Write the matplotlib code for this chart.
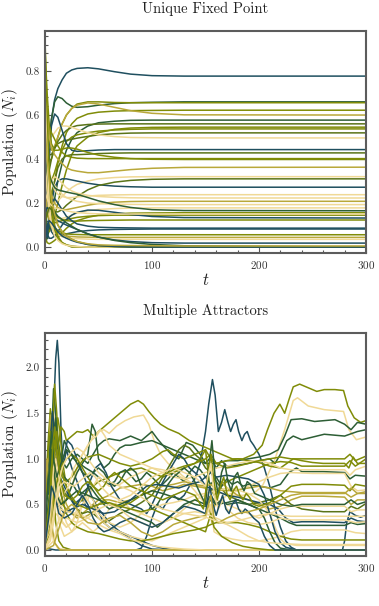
import matplotlib
matplotlib.use("Agg")
import matplotlib.pyplot as plt
from matplotlib.ticker import MultipleLocator, FormatStrFormatter

plt.rcParams['font.family'] = 'serif'
plt.rcParams['font.serif'] = ['cmr10']
plt.rcParams['mathtext.fontset'] = 'cm'
plt.rcParams['axes.unicode_minus'] = False
plt.rcParams['axes.formatter.use_mathtext'] = True

# palette keys
PAL = {'T': '#1f4f5f', 'D': '#2d5e35', 'G': '#5a7418', 'O': '#808c08',
       'Y': '#b9a83a', 'L': '#f0d996'}

# ---------------- top panel data: values at shared time grid ----------------
top_t = [0, 2, 4, 6, 9, 12, 16, 20, 25, 30, 40, 50, 65, 80, 100, 130, 300]
top_colors = ['T', 'D', 'O', 'O', 'Y', 'D', 'G', 'O', 'O', 'G', 'L', 'T', 'G', 'O', 'O',
              'Y', 'L', 'T', 'G', 'L', 'L', 'Y', 'L', 'L', 'D', 'O', 'O', 'T', 'O', 'T',
              'T', 'O', 'Y', 'L', 'T', 'D', 'O', 'O', 'L', 'G', 'T', 'L', 'Y']
top_series = [
    [0.10, 0.30, 0.48, 0.58, 0.67, 0.72, 0.76, 0.79, 0.805, 0.812, 0.815, 0.81, 0.797, 0.786, 0.779, 0.777, 0.777],
    [0.05, 0.25, 0.45, 0.58, 0.66, 0.683, 0.675, 0.655, 0.64, 0.635, 0.638, 0.645, 0.652, 0.656, 0.658, 0.66, 0.66],
    [0.45, 0.40, 0.38, 0.40, 0.45, 0.50, 0.56, 0.60, 0.63, 0.65, 0.66, 0.66, 0.657, 0.656, 0.656, 0.656, 0.656],
    [0.30, 0.20, 0.18, 0.22, 0.30, 0.38, 0.46, 0.52, 0.56, 0.585, 0.605, 0.613, 0.618, 0.62, 0.621, 0.622, 0.622],
    [0.60, 0.50, 0.45, 0.44, 0.46, 0.50, 0.56, 0.60, 0.63, 0.645, 0.655, 0.65, 0.635, 0.62, 0.608, 0.601, 0.60],
    [0.02, 0.04, 0.08, 0.14, 0.22, 0.30, 0.38, 0.44, 0.49, 0.52, 0.55, 0.565, 0.572, 0.576, 0.577, 0.577, 0.577],
    [0.50, 0.45, 0.42, 0.42, 0.45, 0.48, 0.51, 0.53, 0.545, 0.552, 0.557, 0.559, 0.56, 0.56, 0.56, 0.56, 0.56],
    [0.15, 0.08, 0.07, 0.09, 0.14, 0.20, 0.28, 0.35, 0.42, 0.46, 0.50, 0.52, 0.535, 0.541, 0.544, 0.545, 0.545],
    [0.38, 0.30, 0.28, 0.30, 0.34, 0.39, 0.44, 0.48, 0.50, 0.51, 0.52, 0.527, 0.532, 0.535, 0.537, 0.537, 0.537],
    [0.25, 0.30, 0.35, 0.40, 0.45, 0.47, 0.48, 0.485, 0.49, 0.495, 0.503, 0.51, 0.515, 0.518, 0.519, 0.519, 0.519],
    [0.55, 0.52, 0.50, 0.50, 0.52, 0.54, 0.55, 0.55, 0.545, 0.535, 0.52, 0.51, 0.502, 0.498, 0.497, 0.496, 0.496],
    [0.05, 0.20, 0.40, 0.55, 0.605, 0.59, 0.53, 0.47, 0.44, 0.435, 0.438, 0.441, 0.443, 0.443, 0.443, 0.443, 0.443],
    [0.30, 0.25, 0.22, 0.24, 0.30, 0.36, 0.40, 0.415, 0.42, 0.42, 0.422, 0.425, 0.427, 0.428, 0.428, 0.428, 0.428],
    [0.70, 0.60, 0.55, 0.52, 0.49, 0.46, 0.43, 0.415, 0.408, 0.404, 0.402, 0.402, 0.402, 0.402, 0.402, 0.402, 0.402],
    [0.90, 0.70, 0.55, 0.47, 0.44, 0.44, 0.445, 0.45, 0.45, 0.445, 0.43, 0.418, 0.408, 0.402, 0.399, 0.398, 0.398],
    [0.80, 0.60, 0.50, 0.45, 0.42, 0.40, 0.38, 0.36, 0.35, 0.345, 0.338, 0.338, 0.345, 0.352, 0.358, 0.362, 0.363],
    [0.35, 0.28, 0.22, 0.20, 0.20, 0.21, 0.23, 0.25, 0.27, 0.285, 0.30, 0.31, 0.316, 0.319, 0.32, 0.32, 0.32],
    [0.02, 0.05, 0.12, 0.20, 0.27, 0.30, 0.31, 0.31, 0.305, 0.30, 0.29, 0.283, 0.277, 0.274, 0.272, 0.272, 0.272],
    [0.40, 0.30, 0.22, 0.18, 0.16, 0.16, 0.17, 0.19, 0.21, 0.23, 0.26, 0.28, 0.295, 0.303, 0.308, 0.31, 0.31],
    [0.60, 0.45, 0.35, 0.30, 0.26, 0.24, 0.23, 0.225, 0.225, 0.228, 0.232, 0.235, 0.237, 0.238, 0.238, 0.238, 0.238],
    [0.15, 0.20, 0.26, 0.30, 0.32, 0.31, 0.29, 0.27, 0.255, 0.245, 0.235, 0.23, 0.226, 0.224, 0.223, 0.223, 0.223],
    [0.50, 0.35, 0.28, 0.24, 0.20, 0.18, 0.17, 0.17, 0.175, 0.18, 0.19, 0.198, 0.204, 0.207, 0.208, 0.208, 0.208],
    [0.25, 0.30, 0.32, 0.30, 0.28, 0.26, 0.24, 0.225, 0.215, 0.208, 0.20, 0.197, 0.195, 0.194, 0.193, 0.193, 0.193],
    [0.45, 0.30, 0.22, 0.17, 0.14, 0.13, 0.13, 0.135, 0.145, 0.155, 0.165, 0.171, 0.175, 0.177, 0.178, 0.178, 0.178],
    [0.30, 0.35, 0.33, 0.30, 0.27, 0.26, 0.255, 0.25, 0.245, 0.24, 0.225, 0.21, 0.193, 0.18, 0.17, 0.166, 0.165],
    [0.05, 0.02, 0.015, 0.02, 0.03, 0.045, 0.065, 0.085, 0.105, 0.12, 0.135, 0.145, 0.151, 0.154, 0.155, 0.156, 0.156],
    [0.20, 0.15, 0.12, 0.11, 0.11, 0.115, 0.12, 0.125, 0.13, 0.135, 0.14, 0.143, 0.145, 0.145, 0.145, 0.145, 0.145],
    [0.10, 0.06, 0.04, 0.04, 0.05, 0.07, 0.10, 0.125, 0.145, 0.158, 0.168, 0.167, 0.158, 0.148, 0.139, 0.134, 0.132],
    [0.35, 0.28, 0.22, 0.18, 0.15, 0.135, 0.125, 0.12, 0.118, 0.118, 0.12, 0.121, 0.122, 0.123, 0.123, 0.123, 0.123],
    [0.02, 0.08, 0.15, 0.20, 0.22, 0.20, 0.17, 0.14, 0.12, 0.105, 0.095, 0.09, 0.088, 0.087, 0.086, 0.086, 0.086],
    [0.30, 0.20, 0.12, 0.07, 0.05, 0.05, 0.055, 0.06, 0.065, 0.07, 0.075, 0.078, 0.08, 0.081, 0.082, 0.082, 0.082],
    [0.60, 0.35, 0.20, 0.13, 0.09, 0.075, 0.065, 0.06, 0.058, 0.057, 0.056, 0.056, 0.056, 0.056, 0.056, 0.056, 0.056],
    [0.25, 0.18, 0.12, 0.09, 0.07, 0.06, 0.055, 0.05, 0.048, 0.046, 0.045, 0.044, 0.044, 0.044, 0.044, 0.044, 0.044],
    [0.40, 0.25, 0.15, 0.10, 0.07, 0.055, 0.047, 0.042, 0.04, 0.038, 0.036, 0.035, 0.035, 0.035, 0.035, 0.035, 0.035],
    [0.15, 0.18, 0.17, 0.15, 0.13, 0.12, 0.11, 0.10, 0.09, 0.08, 0.06, 0.045, 0.032, 0.025, 0.02, 0.018, 0.018],
    [0.50, 0.35, 0.25, 0.20, 0.16, 0.14, 0.125, 0.11, 0.095, 0.08, 0.06, 0.045, 0.03, 0.02, 0.012, 0.006, 0.0],
    [0.95, 0.60, 0.35, 0.20, 0.10, 0.05, 0.02, 0.01, 0.005, 0.002, 0.0, 0.0, 0.0, 0.0, 0.0, 0.0, 0.0],
    [0.85, 0.50, 0.30, 0.17, 0.08, 0.04, 0.02, 0.01, 0.0, 0.0, 0.0, 0.0, 0.0, 0.0, 0.0, 0.0, 0.0],
    [0.70, 0.40, 0.20, 0.10, 0.05, 0.03, 0.015, 0.008, 0.004, 0.002, 0.0, 0.0, 0.0, 0.0, 0.0, 0.0, 0.0],
    [0.10, 0.15, 0.18, 0.17, 0.14, 0.10, 0.07, 0.05, 0.035, 0.025, 0.012, 0.006, 0.002, 0.0, 0.0, 0.0, 0.0],
    [0.05, 0.10, 0.12, 0.11, 0.09, 0.07, 0.05, 0.04, 0.03, 0.022, 0.012, 0.007, 0.003, 0.001, 0.0, 0.0, 0.0],
    [0.25, 0.22, 0.20, 0.19, 0.18, 0.175, 0.17, 0.165, 0.16, 0.157, 0.153, 0.151, 0.15, 0.15, 0.15, 0.15, 0.15],
    [0.55, 0.40, 0.30, 0.22, 0.15, 0.10, 0.07, 0.05, 0.035, 0.025, 0.015, 0.01, 0.008, 0.007, 0.006, 0.005, 0.005],
]

# ---------------- bottom panel data: (t, value) knots per species ----------------
bottom_colors = ['T', 'T', 'O', 'L', 'D', 'D', 'O', 'O', 'D', 'L', 'Y', 'G', 'T', 'T', 'Y',
                 'L', 'L', 'O', 'L', 'D', 'T', 'O', 'L', 'Y', 'L', 'O', 'D', 'L', 'O', 'L',
                 'D', 'O', 'L', 'T', 'Y', 'L']
bottom_knots = [
    [(0, 0.05), (3, 0.2), (6, 0.8), (8, 1.5), (10, 2.1), (11.5, 2.3), (13, 2.05), (15, 1.3), (17, 0.9), (20, 1.1),
     (25, 0.9), (30, 0.75), (35, 0.55), (40, 0.45), (45, 0.5), (50, 0.42), (55, 0.3), (60, 0.25), (70, 0.2),
     (80, 0.15), (90, 0.1), (100, 0.05), (110, 0.02), (120, 0.0), (300, 0.0)],
    [(0, 0.02), (10, 0.0), (85, 0.0), (90, 0.02), (95, 0.15), (100, 0.35), (105, 0.5), (110, 0.45), (115, 0.55),
     (120, 0.6), (125, 0.55), (130, 0.6), (135, 0.7), (140, 0.78), (145, 0.95), (150, 1.3), (153, 1.6), (156.5, 1.87),
     (159, 1.7), (162, 1.3), (165, 1.4), (168, 1.54), (171, 1.4), (173.5, 1.3), (176, 1.38), (178.5, 1.43), (181, 1.3),
     (184, 1.2), (186.5, 1.27), (189, 1.3), (192, 1.2), (195, 1.15), (200, 1.05), (205, 0.9), (210, 0.7), (215, 0.45),
     (220, 0.25), (225, 0.1), (230, 0.03), (235, 0.0), (278, 0.0), (280, 0.1), (282, 0.3), (285, 0.42), (290, 0.38),
     (295, 0.36), (300, 0.38)],
    [(0, 0.3), (3, 0.9), (5, 1.4), (7, 1.2), (9, 0.9), (12, 1.1), (15, 1.35), (18, 1.3), (20, 1.2), (25, 1.25),
     (30, 1.3), (35, 1.29), (40, 1.32), (45, 1.25), (50, 1.3), (55, 1.35), (60, 1.4), (70, 1.5), (80, 1.6), (87, 1.64),
     (92, 1.6), (97, 1.52), (102, 1.45), (108, 1.38), (115, 1.33), (125, 1.28), (135, 1.2), (145, 1.15), (155, 1.1),
     (165, 1.05), (175, 1.0), (185, 1.0), (195, 1.05), (203, 1.15), (208, 1.32), (214, 1.5), (219.5, 1.6), (224, 1.5),
     (228, 1.65), (232, 1.79), (238, 1.82), (246, 1.78), (254, 1.74), (261, 1.76), (271, 1.76), (279, 1.75),
     (283, 1.58), (289, 1.45), (295, 1.4), (300, 1.42)],
    [(0, 0.1), (4, 0.6), (6, 1.4), (8, 1.5), (10, 1.3), (12, 0.9), (15, 0.7), (20, 0.6), (25, 0.7), (30, 0.9),
     (35, 1.05), (40, 1.15), (45, 1.25), (50, 1.3), (55, 1.32), (60, 1.28), (67, 1.36), (75, 1.42), (83, 1.46),
     (92, 1.48), (97, 1.38), (102, 1.2), (108, 1.05), (115, 0.95), (125, 0.85), (135, 0.75), (145, 0.7), (155, 0.65),
     (165, 0.62), (175, 0.6), (185, 0.6), (195, 0.62), (203, 0.7), (208, 0.82), (215, 1.0), (224, 1.32), (232, 1.64),
     (236, 1.67), (246, 1.58), (261, 1.54), (279, 1.52), (284, 1.32), (291, 1.21), (300, 1.24)],
    [(0, 0.2), (3, 0.8), (5, 1.5), (7, 1.4), (9, 1.0), (12, 1.2), (15, 1.0), (20, 0.9), (25, 1.0), (30, 1.05),
     (35, 1.0), (40, 0.95), (45, 1.05), (50, 1.15), (55, 1.2), (60, 1.22), (70, 1.2), (80, 1.25), (90, 1.2),
     (95, 1.25), (100, 1.3), (105, 1.22), (110, 1.15), (120, 1.1), (130, 1.05), (140, 1.0), (150, 0.95), (160, 0.95),
     (170, 0.98), (180, 0.98), (190, 1.0), (200, 1.02), (210, 1.05), (218, 1.1), (224, 1.25), (230, 1.43),
     (240, 1.44), (252, 1.41), (271, 1.43), (280, 1.38), (286, 1.32), (292, 1.4), (300, 1.38)],
    [(0, 0.1), (4, 0.5), (6, 1.2), (8, 1.77), (10, 1.5), (12, 1.0), (14, 0.7), (17, 0.5), (20, 0.55), (25, 0.7),
     (30, 0.85), (35, 0.95), (40, 1.05), (44, 1.38), (47, 1.3), (50, 1.0), (55, 0.9), (60, 0.95), (65, 1.05),
     (70, 1.12), (75, 1.15), (80, 1.15), (90, 1.18), (100, 1.2), (110, 1.15), (118, 1.05), (125, 1.0), (132, 1.18),
     (138, 1.15), (145, 1.05), (150, 0.95), (155, 1.02), (160, 0.9), (165, 0.98), (170, 0.92), (180, 0.93),
     (190, 0.95), (200, 0.98), (210, 1.0), (215, 0.95), (220, 1.05), (226, 1.2), (232, 1.25), (240, 1.21),
     (261, 1.27), (280, 1.25), (292, 1.3), (300, 1.32)],
    [(0, 0.5), (3, 1.2), (5, 1.55), (7, 1.3), (9, 1.82), (11, 1.5), (13, 1.0), (16, 0.8), (20, 0.75), (25, 0.8),
     (30, 0.9), (35, 0.98), (40, 1.02), (50, 1.05), (60, 1.0), (70, 0.95), (80, 0.92), (90, 0.95), (100, 1.0),
     (110, 1.08), (115, 1.1), (120, 1.05), (130, 1.0), (140, 1.05), (150, 1.1), (155, 1.0), (160, 0.95), (170, 0.98),
     (180, 1.0), (190, 0.98), (200, 0.96), (210, 0.92), (220, 0.9), (226, 0.95), (232, 1.0), (240, 0.98),
     (250, 0.96), (260, 0.95), (280, 0.95), (284, 0.9), (288, 1.02), (292, 0.95), (300, 0.95)],
    [(0, 0.05), (5, 0.2), (8, 0.6), (10, 1.2), (12, 1.45), (14, 1.3), (16, 1.0), (20, 0.7), (25, 0.55), (30, 0.5),
     (35, 0.55), (40, 0.65), (50, 0.75), (60, 0.8), (70, 0.85), (80, 0.88), (90, 0.9), (100, 0.85), (110, 0.8),
     (120, 0.85), (130, 0.9), (140, 0.95), (145, 1.0), (150, 1.1), (154, 0.7), (158, 0.6), (165, 0.7), (170, 0.75),
     (180, 0.8), (190, 0.85), (200, 0.9), (210, 0.95), (220, 0.97), (230, 0.96), (240, 0.92), (250, 0.92),
     (280, 0.92), (285, 0.98), (290, 0.92), (300, 1.0)],
    [(0, 0.3), (3, 1.0), (5, 1.35), (7, 1.0), (10, 0.7), (14, 0.9), (18, 1.2), (22, 1.1), (27, 1.0), (32, 0.95),
     (38, 0.9), (45, 0.85), (50, 0.8), (55, 0.75), (60, 0.72), (65, 0.75), (70, 0.85), (75, 0.88), (80, 0.82),
     (85, 0.75), (90, 0.78), (95, 0.85), (100, 0.8), (108, 0.7), (115, 0.78), (120, 0.85), (125, 0.8), (130, 0.75),
     (135, 0.85), (140, 0.92), (145, 0.88), (150, 0.8), (155, 0.72), (160, 0.8), (165, 0.7), (170, 0.78),
     (175, 0.72), (180, 0.75), (185, 0.7), (190, 0.72), (200, 0.7), (210, 0.68), (220, 0.72), (228, 0.85),
     (235, 0.9), (240, 0.86), (260, 0.86), (280, 0.85), (285, 0.78), (290, 0.82), (300, 0.81)],
    [(0, 0.1), (4, 0.3), (6, 1.0), (8, 1.3), (10, 0.9), (13, 0.5), (16, 0.3), (20, 0.25), (25, 0.3), (30, 0.4),
     (35, 0.5), (40, 0.55), (45, 0.7), (50, 0.8), (55, 0.75), (60, 0.7), (70, 0.72), (80, 0.8), (90, 0.85),
     (100, 0.9), (110, 0.88), (120, 0.85), (130, 0.78), (140, 0.65), (150, 0.5), (155, 0.45), (160, 0.5),
     (170, 0.6), (180, 0.65), (190, 0.7), (200, 0.75), (210, 0.8), (220, 0.84), (230, 0.85), (250, 0.84),
     (280, 0.84), (286, 0.7), (292, 0.65), (300, 0.66)],
    [(0, 0.2), (3, 0.8), (5, 1.48), (7, 1.2), (9, 0.8), (12, 0.6), (16, 0.5), (20, 0.45), (25, 0.4), (30, 0.35),
     (35, 0.4), (40, 0.45), (45, 0.5), (50, 0.55), (60, 0.6), (70, 0.68), (80, 0.7), (90, 0.72), (100, 0.7),
     (110, 0.65), (120, 0.68), (130, 0.72), (140, 0.7), (150, 0.68), (153, 0.5), (156, 0.3), (160, 0.6), (165, 0.75),
     (170, 0.68), (180, 0.6), (190, 0.55), (200, 0.5), (210, 0.45), (220, 0.48), (230, 0.55), (240, 0.59),
     (260, 0.59), (280, 0.58), (286, 0.5), (292, 0.55), (300, 0.55)],
    [(0, 0.05), (5, 0.3), (8, 0.8), (10, 1.05), (12, 0.9), (16, 0.7), (20, 0.6), (25, 0.55), (30, 0.45), (35, 0.4),
     (40, 0.42), (45, 0.4), (50, 0.35), (55, 0.3), (60, 0.32), (70, 0.4), (80, 0.45), (90, 0.52), (100, 0.6),
     (105, 0.7), (110, 0.8), (115, 0.9), (120, 1.0), (125, 1.1), (130, 1.15), (135, 1.12), (140, 1.05), (145, 1.0),
     (150, 0.9), (155, 0.85), (160, 0.75), (170, 0.6), (180, 0.55), (190, 0.5), (200, 0.52), (210, 0.55),
     (220, 0.6), (230, 0.5), (240, 0.45), (260, 0.42), (280, 0.42), (286, 0.48), (292, 0.45), (300, 0.51)],
    [(0, 0.0), (3, 0.5), (5, 1.2), (7, 1.52), (9, 1.3), (11, 1.0), (14, 0.8), (18, 0.7), (22, 0.6), (27, 0.5),
     (32, 0.55), (37, 0.6), (42, 0.75), (47, 0.9), (52, 0.95), (57, 0.85), (62, 0.7), (70, 0.55), (80, 0.5),
     (90, 0.45), (95, 0.4), (100, 0.5), (108, 0.7), (115, 0.85), (120, 0.95), (125, 1.05), (130, 1.0), (135, 0.9),
     (140, 0.85), (145, 0.8), (150, 0.7), (160, 0.65), (170, 0.6), (180, 0.58), (190, 0.55), (200, 0.52),
     (210, 0.5), (218, 0.45), (225, 0.35), (232, 0.3), (240, 0.31), (260, 0.31), (280, 0.3), (286, 0.35),
     (292, 0.32), (300, 0.31)],
    [(0, 0.1), (4, 0.4), (6, 0.9), (8, 1.4), (10, 1.2), (13, 0.9), (17, 1.0), (21, 1.2), (25, 1.15), (30, 1.0),
     (35, 0.85), (40, 0.7), (45, 0.55), (50, 0.45), (55, 0.38), (60, 0.3), (70, 0.2), (80, 0.12), (90, 0.05),
     (100, 0.01), (120, 0.0), (300, 0.0)],
    [(0, 0.05), (6, 0.3), (9, 0.9), (11, 1.1), (13, 0.9), (16, 0.65), (20, 0.5), (25, 0.4), (30, 0.38), (35, 0.35),
     (40, 0.38), (45, 0.42), (50, 0.5), (55, 0.55), (60, 0.55), (70, 0.52), (80, 0.55), (90, 0.6), (100, 0.65),
     (110, 0.7), (120, 0.72), (130, 0.75), (140, 0.72), (150, 0.7), (155, 0.72), (160, 0.66), (170, 0.65),
     (180, 0.66), (190, 0.68), (200, 0.7), (210, 0.68), (220, 0.65), (230, 0.64), (240, 0.63), (260, 0.63),
     (280, 0.63), (286, 0.58), (292, 0.62), (300, 0.62)],
    [(0, 0.05), (5, 0.2), (8, 0.5), (10, 0.7), (12, 0.6), (16, 0.45), (20, 0.3), (25, 0.2), (30, 0.25), (35, 0.3),
     (40, 0.25), (45, 0.2), (50, 0.25), (55, 0.35), (60, 0.45), (65, 0.5), (70, 0.55), (75, 0.5), (80, 0.45),
     (90, 0.4), (100, 0.35), (110, 0.3), (120, 0.35), (130, 0.45), (140, 0.55), (150, 0.6), (160, 0.55),
     (170, 0.5), (180, 0.45), (190, 0.4), (200, 0.35), (210, 0.4), (220, 0.45), (230, 0.48), (260, 0.48),
     (280, 0.48), (286, 0.42), (292, 0.44), (300, 0.44)],
    [(0, 0.02), (5, 0.1), (8, 0.3), (10, 0.4), (14, 0.35), (20, 0.25), (25, 0.3), (30, 0.45), (35, 0.6), (40, 0.55),
     (45, 0.45), (50, 0.35), (60, 0.25), (70, 0.2), (80, 0.15), (90, 0.12), (100, 0.1), (110, 0.15), (120, 0.2),
     (130, 0.25), (140, 0.3), (150, 0.35), (155, 0.5), (158, 0.2), (165, 0.15), (175, 0.12), (185, 0.1),
     (200, 0.1), (210, 0.12), (220, 0.15), (230, 0.2), (240, 0.22), (260, 0.22), (280, 0.22), (290, 0.19),
     (300, 0.18)],
    [(0, 0.05), (6, 0.2), (9, 0.6), (12, 0.8), (15, 0.6), (20, 0.4), (25, 0.3), (30, 0.25), (40, 0.2), (50, 0.18),
     (60, 0.15), (70, 0.12), (80, 0.1), (90, 0.1), (100, 0.12), (110, 0.15), (120, 0.18), (130, 0.2), (140, 0.22),
     (150, 0.25), (155, 0.28), (160, 0.3), (170, 0.3), (180, 0.3), (190, 0.28), (200, 0.25), (210, 0.2),
     (220, 0.15), (230, 0.12), (240, 0.11), (280, 0.11), (300, 0.11)],
    [(0, 0.1), (5, 0.4), (8, 0.8), (10, 0.6), (13, 0.3), (18, 0.15), (25, 0.2), (30, 0.3), (35, 0.5), (40, 0.6),
     (45, 0.55), (50, 0.4), (60, 0.3), (70, 0.25), (80, 0.3), (90, 0.4), (100, 0.45), (110, 0.5), (120, 0.52),
     (130, 0.55), (140, 0.6), (150, 0.62), (160, 0.65), (170, 0.68), (180, 0.66), (190, 0.62), (200, 0.55),
     (210, 0.4), (215, 0.25), (220, 0.12), (225, 0.07), (235, 0.05), (300, 0.05)],
    [(0, 0.05), (4, 0.5), (6, 1.0), (8, 1.2), (10, 1.45), (12, 1.2), (15, 0.9), (18, 0.8), (22, 0.75), (27, 0.7),
     (32, 0.6), (37, 0.65), (42, 0.7), (48, 0.6), (55, 0.5), (60, 0.45), (70, 0.5), (80, 0.55), (90, 0.6),
     (100, 0.65), (110, 0.62), (120, 0.58), (130, 0.55), (140, 0.5), (150, 0.48), (155, 0.55), (160, 0.5),
     (170, 0.52), (180, 0.55), (190, 0.5), (200, 0.45), (205, 0.35), (210, 0.2), (215, 0.08), (220, 0.02),
     (230, 0.0), (300, 0.0)],
    [(0, 0.3), (3, 0.9), (5, 1.0), (8, 0.7), (12, 0.5), (18, 0.4), (25, 0.45), (35, 0.5), (45, 0.45), (55, 0.4),
     (65, 0.42), (75, 0.5), (85, 0.6), (95, 0.7), (105, 0.72), (115, 0.7), (125, 0.68), (135, 0.72), (145, 0.75),
     (155, 0.85), (160, 0.8), (170, 0.82), (180, 0.8), (190, 0.78), (200, 0.72), (205, 0.6), (210, 0.4),
     (215, 0.2), (220, 0.08), (225, 0.03), (235, 0.0), (300, 0.0)],
    [(0, 0.4), (3, 1.1), (5, 1.3), (7, 0.8), (10, 0.3), (13, 0.1), (17, 0.03), (25, 0.0), (300, 0.0)],
    [(0, 0.3), (3, 0.6), (5, 0.3), (8, 0.1), (12, 0.02), (20, 0.0), (300, 0.0)],
    [(0, 0.6), (2, 1.0), (4, 0.7), (6, 0.3), (9, 0.08), (14, 0.0), (300, 0.0)],
    [(0, 0.1), (4, 0.3), (7, 0.8), (10, 0.6), (14, 0.45), (20, 0.42), (30, 0.4), (40, 0.35), (50, 0.28),
     (60, 0.22), (70, 0.18), (80, 0.12), (90, 0.08), (100, 0.05), (110, 0.03), (130, 0.01), (150, 0.0), (300, 0.0)],
    [(0, 0.2), (5, 0.5), (8, 1.0), (11, 1.3), (14, 1.0), (18, 0.75), (24, 0.6), (30, 0.5), (40, 0.45), (50, 0.5),
     (60, 0.52), (70, 0.48), (80, 0.45), (90, 0.42), (100, 0.45), (110, 0.4), (120, 0.35), (130, 0.3), (140, 0.25),
     (150, 0.2), (155, 0.4), (158, 0.25), (165, 0.15), (175, 0.08), (185, 0.04), (195, 0.02), (210, 0.0),
     (300, 0.0)],
    [(0, 0.1), (4, 0.6), (6, 1.1), (8, 0.9), (11, 0.6), (15, 0.5), (20, 0.55), (25, 0.6), (30, 0.65), (40, 0.6),
     (50, 0.55), (60, 0.5), (70, 0.45), (80, 0.4), (90, 0.35), (100, 0.3), (105, 0.25), (110, 0.3), (120, 0.4),
     (130, 0.5), (140, 0.55), (150, 0.5), (155, 0.6), (160, 0.5), (165, 0.55), (170, 0.5), (180, 0.52),
     (190, 0.5), (200, 0.45), (210, 0.4), (220, 0.35), (228, 0.3), (235, 0.27), (280, 0.27), (286, 0.3),
     (292, 0.28), (300, 0.29)],
    [(0, 0.05), (5, 0.4), (8, 0.9), (10, 1.0), (13, 0.8), (17, 0.6), (22, 0.7), (27, 0.9), (32, 1.0), (38, 1.1),
     (43, 1.2), (48, 1.25), (52, 1.32), (56, 1.25), (60, 1.15), (70, 1.05), (80, 1.0), (90, 0.95), (100, 0.9),
     (110, 0.85), (120, 0.8), (130, 0.78), (140, 0.8), (150, 0.85), (160, 0.9), (170, 0.92), (180, 0.95),
     (190, 0.97), (200, 0.98), (210, 0.95), (220, 0.9), (230, 0.88), (250, 0.88), (280, 0.88), (285, 0.82),
     (290, 0.88), (300, 0.92)],
    [(0, 0.1), (4, 0.5), (6, 0.9), (9, 1.2), (12, 1.0), (15, 0.9), (20, 1.0), (25, 1.05), (30, 1.0), (35, 0.9),
     (40, 0.8), (45, 0.7), (50, 0.62), (55, 0.55), (60, 0.5), (70, 0.48), (80, 0.52), (90, 0.6), (100, 0.72),
     (110, 0.82), (120, 0.88), (130, 0.92), (140, 0.95), (150, 1.0), (155, 1.05), (160, 0.95), (170, 0.9),
     (180, 0.92), (190, 0.95), (200, 0.98), (210, 1.0), (220, 1.02), (230, 1.0), (240, 1.0), (260, 1.0),
     (280, 1.0), (285, 1.05), (290, 0.98), (300, 1.03)],
    [(0, 0.0), (8, 0.1), (12, 0.3), (16, 0.4), (20, 0.35), (30, 0.3), (40, 0.35), (50, 0.45), (60, 0.5),
     (70, 0.45), (80, 0.35), (90, 0.3), (100, 0.25), (110, 0.3), (120, 0.35), (130, 0.4), (140, 0.42),
     (150, 0.4), (160, 0.35), (170, 0.3), (180, 0.32), (190, 0.35), (200, 0.38), (210, 0.4), (220, 0.38),
     (230, 0.37), (280, 0.37), (300, 0.37)],
    [(0, 0.2), (4, 0.9), (6, 1.3), (8, 1.0), (11, 0.8), (15, 0.95), (20, 1.1), (25, 1.05), (30, 0.95), (35, 0.85),
     (40, 0.8), (45, 0.85), (50, 0.9), (55, 0.85), (60, 0.75), (65, 0.7), (70, 0.75), (75, 0.85), (80, 0.9),
     (85, 0.85), (90, 0.7), (95, 0.55), (100, 0.45), (105, 0.5), (110, 0.6), (115, 0.72), (120, 0.8), (125, 0.85),
     (130, 0.9), (135, 0.85), (140, 0.75), (145, 0.62), (150, 0.5), (153, 0.9), (156, 1.2), (159, 0.8), (162, 0.6),
     (165, 0.85), (168, 0.95), (171, 0.75), (174, 0.65), (177, 0.8), (180, 0.85), (183, 0.72), (186, 0.65),
     (189, 0.75), (192, 0.72), (196, 0.62), (200, 0.6), (210, 0.55), (220, 0.5), (230, 0.48), (240, 0.5),
     (260, 0.5), (280, 0.5), (286, 0.55), (292, 0.5), (300, 0.53)],
    [(0, 0.1), (5, 0.6), (7, 1.1), (9, 1.35), (11, 1.1), (14, 0.8), (18, 0.6), (25, 0.55), (30, 0.6), (35, 0.7),
     (40, 0.75), (45, 0.7), (50, 0.65), (55, 0.7), (60, 0.8), (65, 0.85), (70, 0.8), (80, 0.7), (90, 0.65),
     (100, 0.6), (110, 0.55), (120, 0.6), (130, 0.65), (140, 0.6), (148, 0.45), (152, 0.8), (155, 1.05), (158, 0.75),
     (161, 0.55), (164, 0.7), (167, 0.8), (170, 0.62), (173, 0.55), (176, 0.65), (179, 0.7), (182, 0.6), (185, 0.55),
     (188, 0.62), (191, 0.58), (195, 0.5), (200, 0.48), (210, 0.52), (220, 0.6), (230, 0.7), (240, 0.72),
     (260, 0.72), (280, 0.71), (285, 0.65), (290, 0.72), (300, 0.7)],
    [(0, 0.0), (6, 0.2), (10, 0.5), (14, 0.7), (18, 0.75), (22, 0.72), (27, 0.7), (32, 0.75), (37, 0.8), (42, 0.85),
     (47, 0.8), (52, 0.7), (60, 0.6), (70, 0.55), (80, 0.6), (90, 0.7), (100, 0.8), (110, 0.85), (120, 0.9),
     (130, 0.85), (140, 0.8), (150, 0.7), (155, 0.95), (158, 0.6), (162, 0.45), (166, 0.55), (170, 0.45),
     (175, 0.4), (180, 0.35), (190, 0.3), (200, 0.28), (210, 0.3), (220, 0.35), (230, 0.33), (260, 0.33),
     (280, 0.33), (290, 0.3), (300, 0.31)],
    [(0, 0.05), (4, 0.4), (6, 0.7), (9, 0.6), (13, 0.4), (18, 0.35), (25, 0.4), (30, 0.5), (35, 0.6), (40, 0.5),
     (45, 0.35), (50, 0.25), (55, 0.2), (60, 0.22), (70, 0.3), (80, 0.35), (90, 0.3), (100, 0.25), (110, 0.3),
     (120, 0.4), (130, 0.48), (140, 0.45), (150, 0.4), (154, 0.7), (157, 0.5), (160, 0.38), (163, 0.5), (166, 0.6),
     (169, 0.45), (172, 0.4), (175, 0.5), (178, 0.55), (181, 0.45), (184, 0.4), (187, 0.45), (190, 0.42),
     (195, 0.35), (200, 0.3), (205, 0.15), (210, 0.05), (215, 0.0), (300, 0.0)],
    [(0, 0.0), (8, 0.05), (12, 0.2), (16, 0.35), (20, 0.45), (25, 0.5), (30, 0.45), (35, 0.35), (40, 0.3),
     (50, 0.28), (60, 0.35), (70, 0.38), (80, 0.3), (90, 0.2), (100, 0.15), (110, 0.2), (120, 0.28), (130, 0.32),
     (140, 0.35), (150, 0.38), (155, 0.6), (158, 0.35), (162, 0.3), (170, 0.35), (180, 0.4), (190, 0.42),
     (200, 0.45), (210, 0.5), (220, 0.55), (230, 0.6), (240, 0.62), (260, 0.62), (280, 0.62), (286, 0.68),
     (292, 0.62), (300, 0.64)],
    [(0, 0.0), (5, 0.15), (8, 0.4), (12, 0.7), (16, 0.9), (20, 1.0), (25, 1.08), (30, 1.12), (35, 1.08), (40, 1.0),
     (45, 0.92), (50, 0.85), (55, 0.8), (60, 0.75), (70, 0.7), (80, 0.65), (90, 0.58), (100, 0.5), (110, 0.45),
     (120, 0.42), (130, 0.4), (140, 0.38), (150, 0.36), (160, 0.32), (170, 0.28), (180, 0.22), (190, 0.15),
     (200, 0.1), (210, 0.08), (220, 0.07), (240, 0.06), (300, 0.06)],
]

titles = ['Unique Fixed Point', 'Multiple Attractors']
ylabel = 'Population ($N_i$)'
xlabel = '$t$'
xticks = [0, 100, 200, 300]

W, H = 379, 606
fig = plt.figure(figsize=(W / 100, H / 100), dpi=100)
ax1 = fig.add_axes([45 / W, 1 - 253 / H, 321 / W, 222 / H])
ax2 = fig.add_axes([45 / W, 1 - 556 / H, 321 / W, 223 / H])

LW = 1.1
for vals, c in zip(top_series, top_colors):
    ax1.plot(top_t, vals, color=PAL[c], lw=LW, solid_capstyle='round', solid_joinstyle='round')
for knots, c in zip(bottom_knots, bottom_colors):
    tt = [k[0] for k in knots]
    vv = [k[1] for k in knots]
    ax2.plot(tt, vv, color=PAL[c], lw=LW, solid_capstyle='round', solid_joinstyle='round')

ax1.set_ylim(-0.027, 0.982)
ax2.set_ylim(-0.066, 2.381)
ax1.yaxis.set_major_locator(MultipleLocator(0.2))
ax1.yaxis.set_minor_locator(MultipleLocator(0.04))
ax2.yaxis.set_major_locator(MultipleLocator(0.5))
ax2.yaxis.set_minor_locator(MultipleLocator(0.1))

for ax, title in zip([ax1, ax2], titles):
    ax.set_xlim(0, 300)
    ax.set_xticks(xticks)
    ax.xaxis.set_minor_locator(MultipleLocator(20))
    ax.yaxis.set_major_formatter(FormatStrFormatter('%.1f'))
    ax.tick_params(which='both', direction='in', top=False, right=False,
                   colors='#555555', labelcolor='#333333', labelsize=8, width=0.8)
    ax.tick_params(which='major', length=4, pad=4)
    ax.tick_params(which='minor', length=2)
    for s in ax.spines.values():
        s.set_color('#5c5c5c')
        s.set_linewidth(1.5)
    ax.set_title(title, fontsize=10.5, pad=13, color='#222222')
    ax.set_ylabel(ylabel, fontsize=11, color='#222222', labelpad=4)
    ax.set_xlabel(xlabel, fontsize=12, color='#222222', labelpad=1)

fig.savefig('out.png', dpi=100)
